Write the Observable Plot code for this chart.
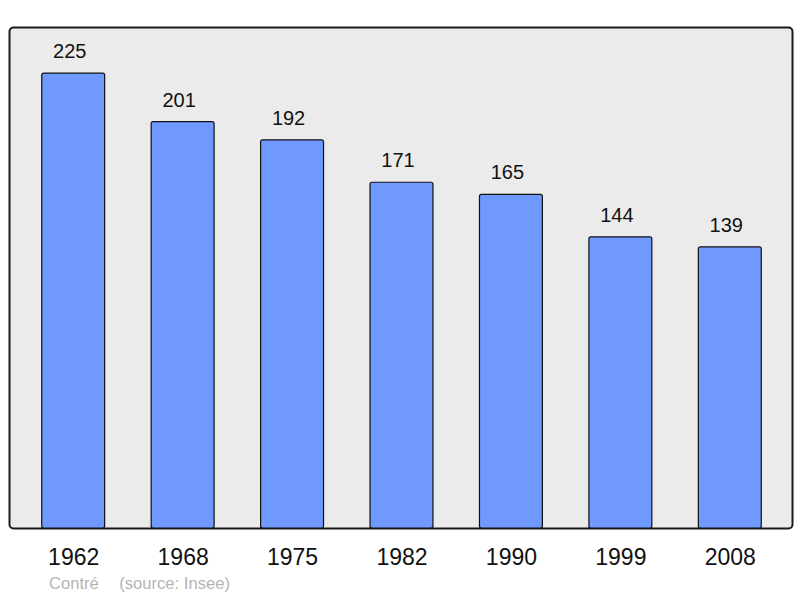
<!DOCTYPE html>
<html>
<head>
<meta charset="utf-8">
<script src="https://cdn.jsdelivr.net/npm/d3@7"></script>
<script src="https://cdn.jsdelivr.net/npm/@observablehq/plot@0.6"></script>
<style>
  html, body { margin: 0; padding: 0; background: #fff; }
  #wrap { position: relative; width: 800px; height: 598px; font-family: "Liberation Sans", Arial, sans-serif; }
  #caption { position: absolute; left: 49px; top: 574px; font-size: 16.6px; color: #b4b4b4; white-space: pre; }
  #caption span { margin-left: 2px; }
</style>
</head>
<body>
<div id="wrap"><div id="chart"></div><div id="caption">Contré    <span>(source: Insee)</span></div></div>
<script>
const years = ["1962", "1968", "1975", "1982", "1990", "1999", "2008"];
const population = [225, 201, 192, 171, 165, 144, 139];

const data = years.map((y, i) => ({year: y, value: population[i]}));

const chart = Plot.plot({
  width: 800,
  height: 598,
  marginTop: 27,
  marginBottom: 70,
  marginLeft: 9,
  marginRight: 8,
  style: {fontFamily: "Liberation Sans, Arial, sans-serif", background: "#fff"},
  x: {domain: years, range: [10, 793], paddingInner: 0.425, paddingOuter: 0.29, round: false, label: null},
  y: {domain: [0, 247.8], axis: null},
  marks: [
    Plot.frame({fill: "#ebebeb", stroke: "#1a1a1a", strokeWidth: 2, rx: 4}),
    Plot.barY(data, {x: "year", y: "value", fill: "#7099ff", stroke: "#111", strokeWidth: 1.2, rx: 2}),
    Plot.text(data, {x: "year", y: "value", text: d => String(d.value), dy: -22, dx: -4, fontSize: 20, fill: "#111"}),
    Plot.axisX({tickSize: 0, tickPadding: 20, fontSize: 23, label: null, color: "#111"})
  ]
});
document.getElementById("chart").appendChild(chart);
</script>
</body>
</html>
